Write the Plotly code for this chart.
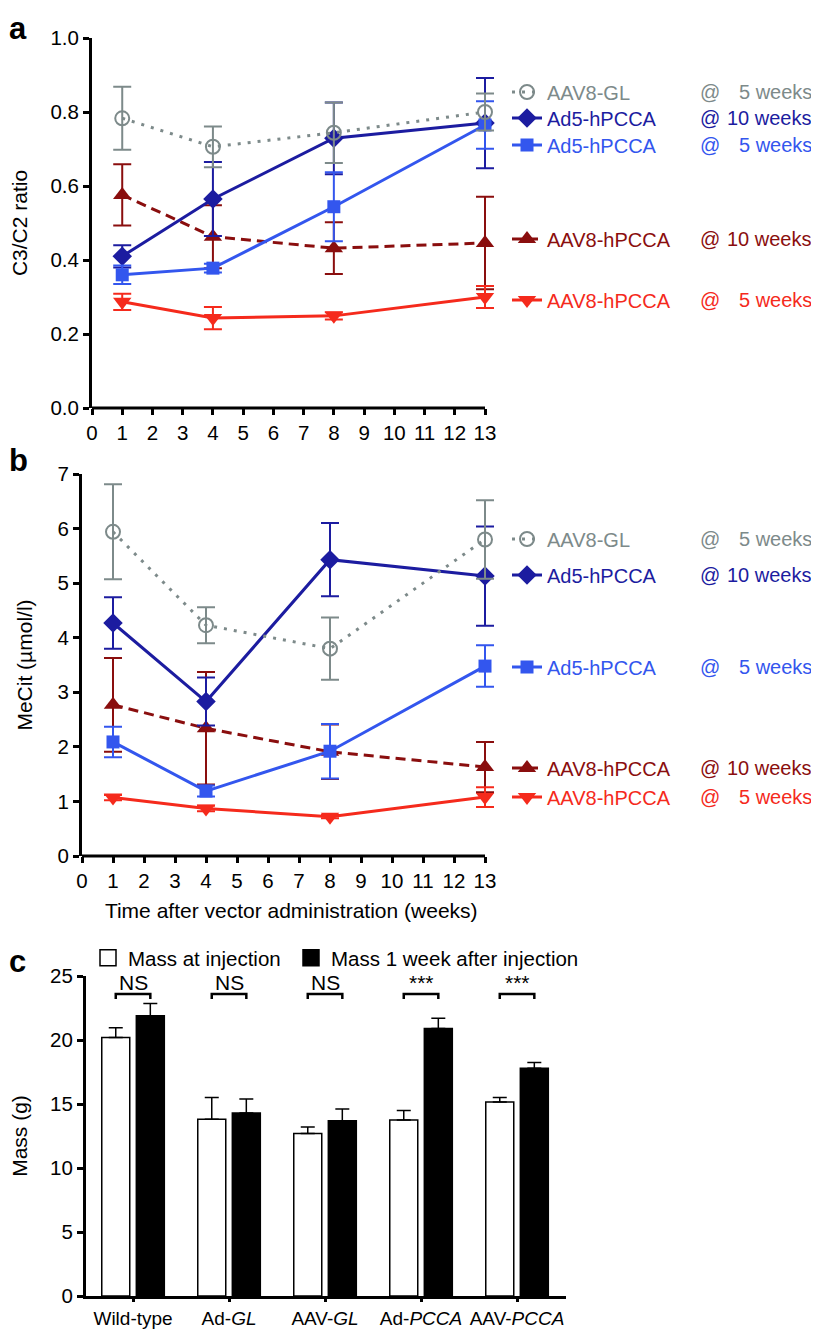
import plotly.graph_objects as go

FONT = "Liberation Sans, Arial, Helvetica, sans-serif"
# the page body keeps its default 8px margin, so the figure is drawn 8px in
PAGE_W, PAGE_H, BODY_MARGIN = 819, 1330, 8
W, H = PAGE_W - BODY_MARGIN, PAGE_H - BODY_MARGIN

WEEKS = [1, 4, 8, 13]

# Series labels (legend text) and time column
SERIES_KEYS = ["aav8_gl", "ad5_10", "ad5_5", "aav8_10", "aav8_5"]
SERIES_NAMES = ["AAV8-GL", "Ad5-hPCCA", "Ad5-hPCCA", "AAV8-hPCCA", "AAV8-hPCCA"]
SERIES_TIMES = ["5 weeks", "10 weeks", "5 weeks", "10 weeks", "5 weeks"]

# Panel a: C3/C2 ratio, mean and error
RATIO_AAV8_GL = [0.783, 0.706, 0.744, 0.80]
RATIO_AAV8_GL_ERR = [0.085, 0.055, 0.082, 0.05]
RATIO_AD5_10 = [0.41, 0.565, 0.729, 0.77]
RATIO_AD5_10_ERR = [0.03, 0.10, 0.097, 0.122]
RATIO_AD5_5 = [0.36, 0.378, 0.544, 0.765]
RATIO_AD5_5_ERR = [0.025, 0.012, 0.093, 0.064]
RATIO_AAV8_10 = [0.576, 0.463, 0.432, 0.446]
RATIO_AAV8_10_ERR = [0.083, 0.085, 0.07, 0.125]
RATIO_AAV8_5 = [0.287, 0.243, 0.249, 0.30]
RATIO_AAV8_5_ERR = [0.022, 0.03, 0.01, 0.03]

# Panel b: MeCit (umol/l), mean and error
MECIT_AAV8_GL = [5.94, 4.23, 3.80, 5.80]
MECIT_AAV8_GL_ERR = [0.87, 0.33, 0.57, 0.72]
MECIT_AD5_10 = [4.27, 2.83, 5.43, 5.13]
MECIT_AD5_10_ERR = [0.47, 0.44, 0.67, 0.91]
MECIT_AD5_5 = [2.09, 1.19, 1.92, 3.48]
MECIT_AD5_5_ERR = [0.28, 0.10, 0.50, 0.38]
MECIT_AAV8_10 = [2.77, 2.34, 1.91, 1.63]
MECIT_AAV8_10_ERR = [0.86, 1.03, 0.50, 0.46]
MECIT_AAV8_5 = [1.07, 0.87, 0.72, 1.08]
MECIT_AAV8_5_ERR = [0.05, 0.05, 0.03, 0.18]

# Panel c: body mass (g)
CATEGORIES = ["Wild-type", "Ad-<i>GL</i>", "AAV-<i>GL</i>", "Ad-<i>PCCA</i>", "AAV-<i>PCCA</i>"]
MASS_AT_INJECTION = [20.2, 13.8, 12.7, 13.75, 15.15]
MASS_AT_INJECTION_ERR = [0.75, 1.7, 0.5, 0.75, 0.35]
MASS_AFTER_1WK = [21.9, 14.3, 13.7, 20.9, 17.8]
MASS_AFTER_1WK_ERR = [0.95, 1.1, 0.9, 0.8, 0.45]
SIGNIFICANCE = ["NS", "NS", "NS", "***", "***"]

STYLE = {
    "aav8_gl": {"color": "#7d8a8a", "symbol": "circle-open", "size": 14, "dash": "3px,7px", "lw": 3},
    "ad5_10": {"color": "#1c1ca0", "symbol": "diamond", "size": 15, "dash": "solid", "lw": 3},
    "ad5_5": {"color": "#3356ee", "symbol": "square", "size": 13, "dash": "solid", "lw": 3},
    "aav8_10": {"color": "#8a0e0e", "symbol": "triangle-up", "size": 16, "dash": "10px,6px", "lw": 3},
    "aav8_5": {"color": "#f52a1c", "symbol": "triangle-down", "size": 16, "dash": "solid", "lw": 3},
}

# Draw order (gray on top)
DRAW_ORDER = ["aav8_10", "aav8_5", "ad5_10", "ad5_5", "aav8_gl"]

RATIO = {
    "aav8_gl": (RATIO_AAV8_GL, RATIO_AAV8_GL_ERR),
    "ad5_10": (RATIO_AD5_10, RATIO_AD5_10_ERR),
    "ad5_5": (RATIO_AD5_5, RATIO_AD5_5_ERR),
    "aav8_10": (RATIO_AAV8_10, RATIO_AAV8_10_ERR),
    "aav8_5": (RATIO_AAV8_5, RATIO_AAV8_5_ERR),
}
MECIT = {
    "aav8_gl": (MECIT_AAV8_GL, MECIT_AAV8_GL_ERR),
    "ad5_10": (MECIT_AD5_10, MECIT_AD5_10_ERR),
    "ad5_5": (MECIT_AD5_5, MECIT_AD5_5_ERR),
    "aav8_10": (MECIT_AAV8_10, MECIT_AAV8_10_ERR),
    "aav8_5": (MECIT_AAV8_5, MECIT_AAV8_5_ERR),
}

# Legend row centres (page pixels from top) for panels a and b
LEGEND_ROWS_A = [92, 118, 145, 239, 300]
LEGEND_ROWS_B = [539, 575, 667, 768, 797]

X_MAX = 13
X_PAD = 0.5  # extra room right of week 13 so error caps are not clipped


def fx(px: float) -> float:
    return (px - BODY_MARGIN) / W


def fy(py: float) -> float:
    return 1 - (py - BODY_MARGIN) / H


def trace_series(key: str, values, errors, xaxis: str, yaxis: str, legend: str) -> go.Scatter:
    s = STYLE[key]
    open_marker = s["symbol"].endswith("open")
    return go.Scatter(
        x=WEEKS,
        y=values,
        xaxis=xaxis,
        yaxis=yaxis,
        mode="lines+markers",
        name=SERIES_NAMES[SERIES_KEYS.index(key)],
        legend=legend,
        line={"color": s["color"], "width": s["lw"], "dash": s["dash"]},
        marker={
            "symbol": s["symbol"],
            "size": s["size"],
            "color": s["color"],
            "line": {"color": s["color"], "width": 2 if open_marker else 0},
        },
        error_y={"type": "data", "array": errors, "color": s["color"], "thickness": 2, "width": 9},
        cliponaxis=False,
        hoverinfo="x+y",
    )


traces = []
legends = {}
annotations = []
shapes = []

for panel, data, xa, ya, rows, offset in [
    ("a", RATIO, "x", "y", LEGEND_ROWS_A, 0),
    ("b", MECIT, "x2", "y2", LEGEND_ROWS_B, 5),
]:
    for key in DRAW_ORDER:
        i = SERIES_KEYS.index(key)
        n = offset + i + 1
        leg = "legend" if n == 1 else f"legend{n}"
        vals, errs = data[key]
        traces.append(trace_series(key, vals, errs, xa, ya, leg))
        legends[leg] = {
            "x": fx(507),
            "y": fy(rows[i]),
            "xanchor": "left",
            "yanchor": "middle",
            "bgcolor": "rgba(0,0,0,0)",
            "font": {"family": FONT, "size": 20, "color": STYLE[key]["color"]},
            "itemwidth": 30,
            "tracegroupgap": 0,
        }
        annotations.append(
            dict(
                xref="paper", yref="paper", x=fx(698), y=fy(rows[i]), xanchor="left", yanchor="middle",
                text="@", showarrow=False, font={"family": FONT, "size": 20, "color": STYLE[key]["color"]},
            )
        )
        annotations.append(
            dict(
                xref="paper", yref="paper", x=fx(814), y=fy(rows[i]), xanchor="right", yanchor="middle",
                text=SERIES_TIMES[i], showarrow=False,
                font={"family": FONT, "size": 20, "color": STYLE[key]["color"]},
            )
        )
    # x axis line only up to week 13 (range continues a little further)
    shapes.append(
        dict(type="line", xref=xa, yref=f"{ya} domain", x0=0, x1=X_MAX, y0=0, y1=0,
             line={"color": "black", "width": 3}, layer="above")
    )

# Panel c bars
cat_idx = list(range(len(CATEGORIES)))
BARGAP = 0.28
traces.append(
    go.Bar(
        x=cat_idx, y=MASS_AT_INJECTION, xaxis="x3", yaxis="y3", showlegend=False,
        marker={"color": "white", "line": {"color": "black", "width": 1.5}},
        error_y={"type": "data", "array": MASS_AT_INJECTION_ERR, "arrayminus": [0] * len(cat_idx),
                 "symmetric": False, "color": "black", "thickness": 1.5, "width": 7},
        name="Mass at injection",
    )
)
traces.append(
    go.Bar(
        x=cat_idx, y=MASS_AFTER_1WK, xaxis="x3", yaxis="y3", showlegend=False,
        marker={"color": "black", "line": {"color": "black", "width": 1.5}},
        error_y={"type": "data", "array": MASS_AFTER_1WK_ERR, "arrayminus": [0] * len(cat_idx),
                 "symmetric": False, "color": "black", "thickness": 1.5, "width": 7},
        name="Mass 1 week after injection",
    )
)

# legend proxies for bars
for n, (name, fill, lx) in enumerate(
    [("Mass at injection", "white", 88), ("Mass 1 week after injection", "black", 291)], start=11
):
    leg = f"legend{n}"
    traces.append(
        go.Scatter(
            x=[None], y=[None], xaxis="x3", yaxis="y3", mode="markers", name=name, legend=leg,
            marker={"symbol": "square", "size": 16, "color": fill, "line": {"color": "black", "width": 1.5}},
        )
    )
    legends[leg] = {
        "x": fx(lx), "y": fy(958), "xanchor": "left", "yanchor": "middle",
        "bgcolor": "rgba(0,0,0,0)", "font": {"family": FONT, "size": 20.5, "color": "black"},
        "itemwidth": 30,
    }

# significance brackets
half = (1 - BARGAP) / 4
bx, by = [], []
for i in cat_idx:
    bx += [i - half, i - half, i + half, i + half, None]
    by += [23.2, 23.6, 23.6, 23.2, None]
    annotations.append(
        dict(xref="x3", yref="y3", x=i, y=24.5, text=SIGNIFICANCE[i], showarrow=False,
             yanchor="middle", font={"family": FONT, "size": 21, "color": "black"})
    )
traces.append(
    go.Scatter(x=bx, y=by, xaxis="x3", yaxis="y3", mode="lines", showlegend=False,
               line={"color": "black", "width": 2.5}, hoverinfo="skip", cliponaxis=False)
)

# panel letters
for letter, py in [("a", 28), ("b", 460), ("c", 962)]:
    annotations.append(
        dict(xref="paper", yref="paper", x=0, y=fy(py), xanchor="left", yanchor="middle",
             text=f"<b>{letter}</b>", showarrow=False, borderpad=0,
             font={"family": FONT, "size": 31, "color": "black"})
    )

axis_common = dict(
    showline=True, linecolor="black", linewidth=3, ticks="outside", ticklen=6, tickwidth=2.5,
    tickcolor="black", showgrid=False, zeroline=False, tickangle=0,
    tickfont={"family": FONT, "size": 20.5, "color": "black"},
)
title_font = {"family": FONT, "size": 21, "color": "black"}

px_per_week_a = (485 - 92) / X_MAX
px_per_week_b = (485 - 82) / X_MAX

layout = go.Layout(
    width=W,
    height=H,
    margin={"l": 0, "r": 0, "t": 0, "b": 0, "autoexpand": False},
    paper_bgcolor="white",
    plot_bgcolor="white",
    font={"family": FONT, "color": "black"},
    barmode="group",
    bargap=BARGAP,
    bargroupgap=0.19,
    xaxis=dict(axis_common, showline=False, domain=[fx(92), fx(485 + X_PAD * px_per_week_a)],
               range=[0, X_MAX + X_PAD], dtick=1, anchor="y"),
    yaxis=dict(axis_common, domain=[fy(408), fy(38)], range=[0, 1], dtick=0.2, tickformat=".1f",
               anchor="x", title={"text": "C3/C2 ratio", "font": title_font, "standoff": 20}),
    xaxis2=dict(axis_common, showline=False, domain=[fx(82), fx(485 + X_PAD * px_per_week_b)],
                range=[0, X_MAX + X_PAD], dtick=1, anchor="y2",
                title={"text": "Time after vector administration (weeks)", "font": title_font, "standoff": 12}),
    yaxis2=dict(axis_common, domain=[fy(856), fy(474)], range=[0, 7], dtick=1, anchor="x2",
                title={"text": "MeCit (µmol/l)", "font": title_font, "standoff": 20}),
    xaxis3=dict(axis_common, domain=[fx(86), fx(566)], range=[-0.49, 4.51], tickvals=cat_idx,
                ticktext=CATEGORIES, ticklen=3,
                tickfont={"family": FONT, "size": 19, "color": "black"}, anchor="y3"),
    yaxis3=dict(axis_common, domain=[fy(1296), fy(976)], range=[0, 25], dtick=5, anchor="x3",
                title={"text": "Mass (g)", "font": title_font, "standoff": 20}),
    annotations=annotations,
    shapes=shapes,
    **legends,
)

fig = go.Figure(data=traces, layout=layout)
fig.write_html("out.html")
